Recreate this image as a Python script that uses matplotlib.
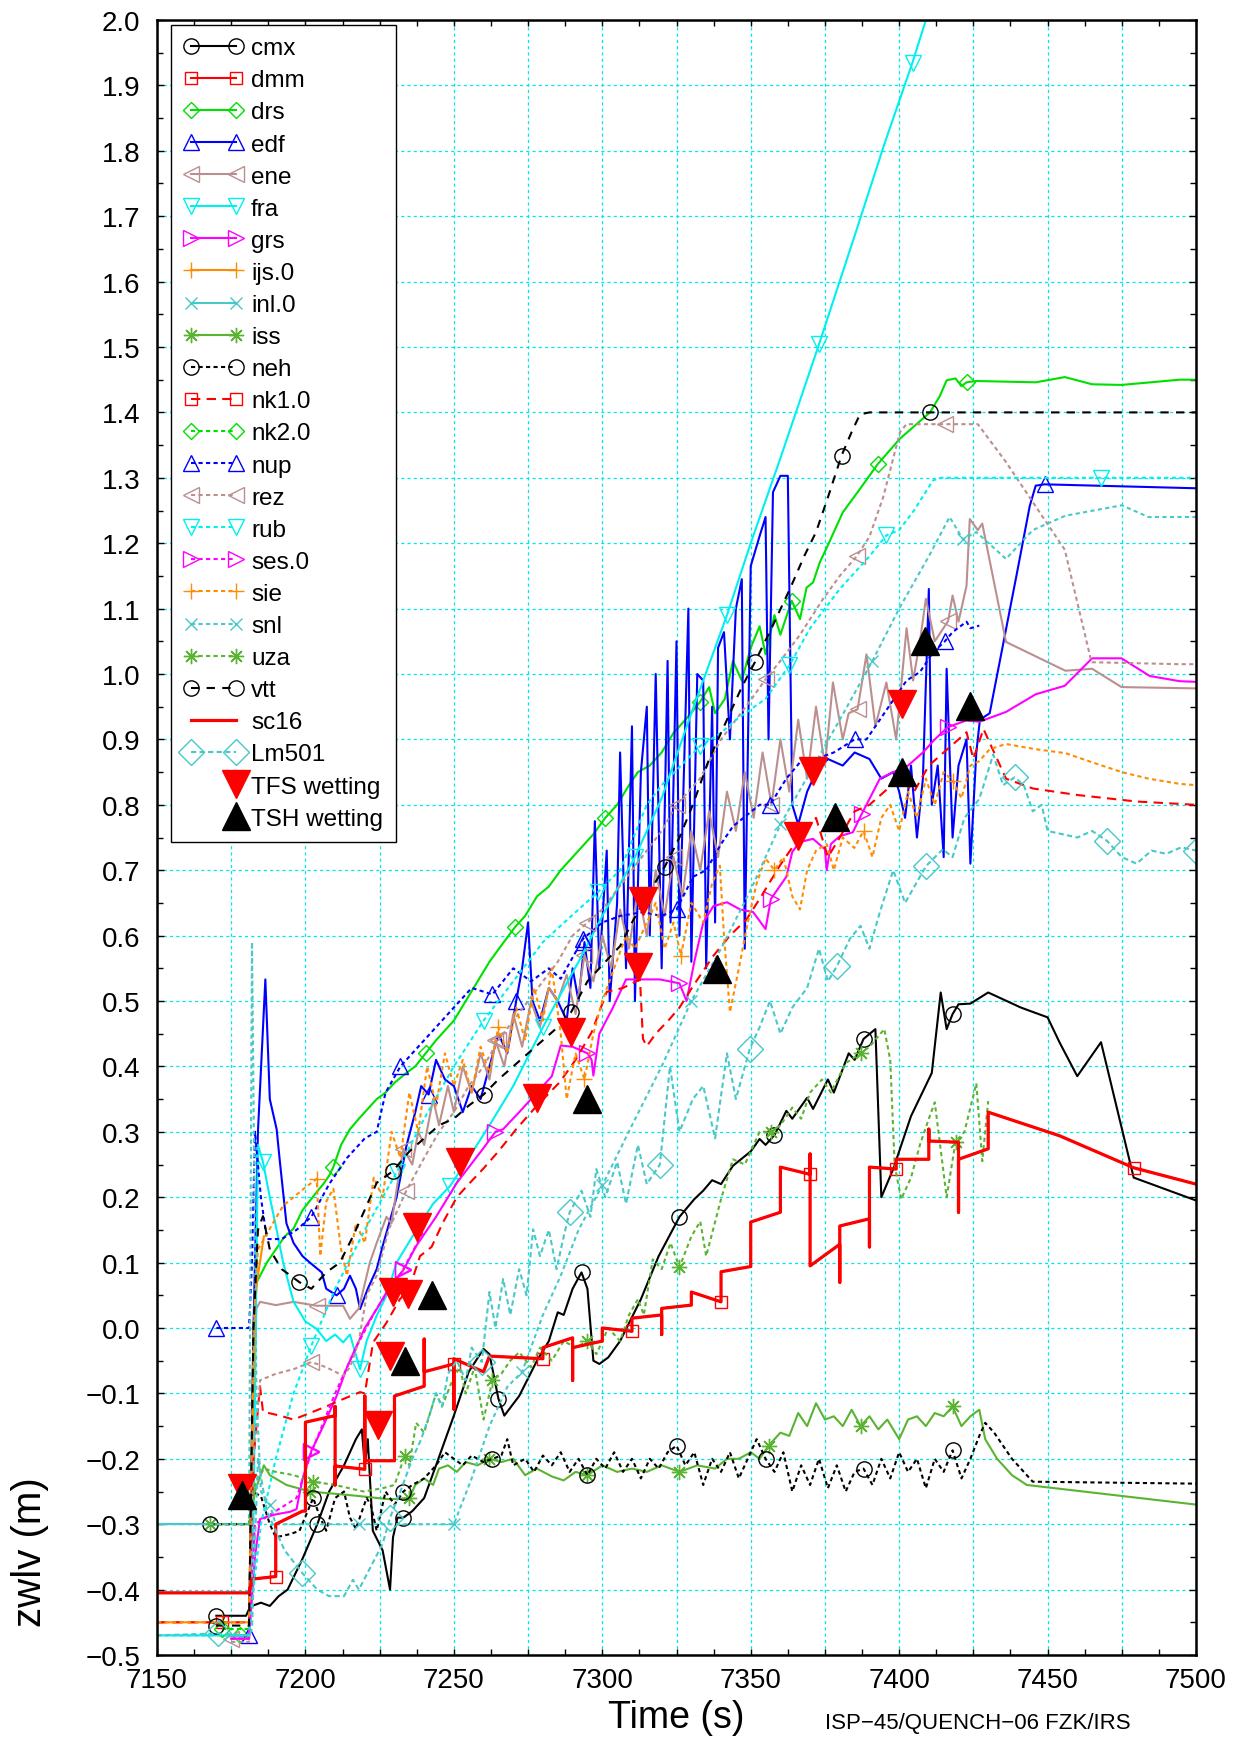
import numpy as np
import matplotlib
matplotlib.use('Agg')
import matplotlib.pyplot as plt
from matplotlib.ticker import MultipleLocator, FuncFormatter
from matplotlib.legend_handler import HandlerLine2D
from matplotlib.lines import Line2D

plt.rcParams['font.family'] = ['Liberation Sans', 'DejaVu Sans']

# ---------------- data (time s, zwlv m) ----------------
cmx = [(7170,-0.44),(7180,-0.44),(7181,-0.43),(7182,-0.425),(7185,-0.42),(7188,-0.425),(7191,-0.41),(7194,-0.40),(7199,-0.353),
       (7204,-0.30),(7208,-0.25),(7213,-0.21),(7217,-0.17),(7219,-0.155),(7220,-0.21),(7221,-0.17),(7222.7,-0.31),(7226,-0.34),
       (7228.5,-0.40),(7229.5,-0.32),(7231,-0.29),(7233,-0.29),(7236,-0.28),(7240,-0.26),(7244,-0.21),(7250,-0.134),(7255,-0.067),
       (7260,-0.032),(7262,-0.04),(7265,-0.108),(7267,-0.134),(7272,-0.104),(7278,-0.05),(7282,-0.02),(7285,0.024),(7287,0.02),
       (7290,0.06),(7293,0.085),(7295,0.06),(7297,-0.05),(7299,-0.055),(7302,-0.045),(7306,-0.02),(7313,0.044),(7319,0.11),
       (7326,0.17),(7331,0.197),(7334,0.21),(7337,0.226),(7340,0.22),(7344,0.248),(7350,0.27),(7353,0.289),(7355,0.28),
       (7358,0.295),(7362,0.332),(7364,0.32),(7369,0.352),(7371,0.335),(7376,0.38),(7378,0.36),(7383,0.42),(7385,0.41),
       (7388,0.442),(7392,0.457),(7394,0.20),(7398,0.243),(7404,0.324),(7411,0.39),(7414,0.513),(7416,0.457),(7418,0.48),
       (7420,0.495),(7424,0.496),(7430,0.513),(7441,0.49),(7450,0.475),(7454,0.437),(7460,0.385),(7468,0.437),(7479,0.23),(7500,0.195)]
cmx_marks = [7171, 7203, 7234, 7265, 7294, 7326, 7357, 7388, 7419]

dmm = [(7150,-0.405),(7181,-0.405),(7182,-0.384),(7190,-0.38),(7190,-0.30),(7199,-0.28),(7200,-0.28),(7200,-0.144),(7210,-0.134),
       (7210,-0.12),(7210,-0.24),(7210,-0.211),(7220,-0.216),(7220,-0.104),(7220,-0.203),(7230,-0.203),(7230,-0.104),(7240,-0.089),
       (7240,-0.017),(7240,-0.067),(7250,-0.055),(7250,-0.124),(7250,-0.047),(7260,-0.067),(7262,-0.043),(7280,-0.047),(7280,-0.03),
       (7290,-0.015),(7290,-0.08),(7290,-0.03),(7300,-0.02),(7300,0.0),(7310,-0.005),(7310,0.015),(7320,0.02),(7320,-0.01),
       (7320,0.03),(7330,0.035),(7330,0.055),(7340,0.04),(7340,0.086),(7350,0.094),(7350,0.162),(7360,0.177),(7360,0.246),
       (7370,0.235),(7370,0.266),(7370,0.095),(7380,0.128),(7380,0.07),(7380,0.156),(7390,0.167),(7390,0.124),(7390,0.246),
       (7399,0.243),(7399,0.258),(7410,0.258),(7410,0.304),(7410,0.286),(7420,0.284),(7420,0.177),(7420,0.258),(7430,0.274),
       (7430,0.33),(7454,0.294),(7479,0.245),(7500,0.22)]
dmm_marks = [7190, 7220, 7250, 7280, 7310, 7340, 7370, 7399, 7479]
sc16 = dmm

drs = [(7178,-0.47),(7181,-0.47),(7182.5,0.0),(7183.6,0.07),(7187,0.1),(7190,0.12),(7193,0.14),(7196,0.152),(7199,0.18),
       (7203.8,0.208),(7206,0.22),(7208,0.233),(7209.4,0.246),(7212,0.28),(7215,0.304),(7218,0.32),(7221,0.335),(7224,0.35),
       (7227,0.36),(7230,0.375),(7234,0.39),(7237,0.4),(7240.5,0.42),(7244,0.44),(7247,0.455),(7250,0.47),(7254,0.5),(7258,0.53),
       (7262,0.56),(7266,0.585),(7270.6,0.613),(7274,0.63),(7278,0.66),(7282,0.675),(7286,0.7),(7290,0.72),(7294,0.74),
       (7297,0.755),(7301,0.78),(7305,0.8),(7309,0.83),(7312,0.85),(7316,0.86),(7320,0.88),(7324,0.91),(7328,0.93),
       (7332.9,0.957),(7336,0.98),(7338,0.94),(7341.3,0.962),(7344,1.02),(7347,0.99),(7350,1.04),(7353,1.073),(7355,1.03),
       (7358,1.09),(7360,1.06),(7363.8,1.112),(7366.6,1.084),(7368.8,1.132),(7371,1.14),(7373.3,1.171),(7375.6,1.193),
       (7381,1.247),(7386.8,1.283),(7392.8,1.321),(7400.3,1.36),(7410.4,1.40),(7413.7,1.425),(7416,1.449),(7419,1.452),
       (7421,1.44),(7422.7,1.446),(7426,1.448),(7446,1.446),(7455.8,1.454),(7465,1.443),(7474.9,1.442),(7494.5,1.45),(7500,1.45)]
drs_marks = [7179, 7209.4, 7240.5, 7270.6, 7301, 7332.9, 7363.8, 7392.8, 7422.7]

edf = [(7175,-0.47),(7181,-0.47),(7182.5,0.0),(7184,0.3),(7186.5,0.533),(7188,0.35),(7190.3,0.304),(7191.4,0.254),(7193.6,0.16),
       (7196,0.13),(7199,0.11),(7201.5,0.10),(7205.5,0.085),(7207,0.06),(7210.5,0.05),(7213,0.06),(7215,0.08),(7217,0.06),
       (7218.4,0.029),(7221,0.06),(7224,0.09),(7226,0.125),(7230.7,0.20),(7234,0.278),(7237,0.33),(7239,0.37),(7241.5,0.357),
       (7244,0.41),(7247,0.38),(7250,0.37),(7253,0.33),(7256,0.37),(7259,0.35),(7262,0.4),(7265,0.45),(7268,0.42),(7271,0.5),
       (7273,0.55),(7275,0.62),(7276.5,0.5),(7279,0.47),(7282,0.52),(7285,0.5),(7288,0.47),(7290,0.55),(7292,0.5),(7294,0.59),
       (7296,0.52),(7297.5,0.775),(7299,0.55),(7301.5,0.73),(7302.5,0.50),(7305,0.65),(7306,0.88),(7308,0.55),(7310,0.92),
       (7311,0.5),(7313,0.85),(7315,0.95),(7316,0.6),(7318,1.0),(7320,0.55),(7322,1.02),(7323,0.62),(7325,1.05),(7326,0.6),
       (7329,1.1),(7330,0.56),(7332,1.0),(7334,0.99),(7335,0.55),(7337,0.95),(7338,0.62),(7339,1.04),(7341,1.064),(7343,0.9),
       (7345,1.1),(7347,1.145),(7348,0.58),(7350,1.165),(7353,1.211),(7355,1.24),(7356,0.9),(7357.5,1.278),(7360,1.303),
       (7362.5,1.303),(7364,0.8),(7366,0.77),(7369,0.82),(7372,0.85),(7376,0.87),(7381,0.86),(7385,0.88),(7390,0.87),
       (7394,0.84),(7398,0.85),(7400,0.82),(7402,0.78),(7404,0.86),(7406,0.75),(7408,0.84),(7410,1.13),(7411,0.8),(7413,0.86),
       (7415,0.72),(7416,1.008),(7418,0.75),(7420,0.86),(7422.7,0.90),(7424,0.71),(7426,0.88),(7427.2,0.93),(7430.5,0.94),
       (7439.5,1.15),(7444,1.257),(7446,1.288),(7449,1.29),(7500,1.284)]
edf_marks = [7179, 7210.5, 7241.5, 7272, 7294, 7449]

ene = [(7175,-0.475),(7181,-0.475),(7182.5,-0.1),(7183.5,0.03),(7184.7,0.04),(7190,0.035),(7196,0.04),(7203.8,0.034),
       (7212.7,0.034),(7215,0.014),(7218,0.03),(7221.7,0.10),(7224,0.13),(7227.3,0.17),(7229,0.16),(7231,0.22),(7233,0.274),
       (7236,0.25),(7238,0.3),(7240,0.28),(7243,0.35),(7245,0.31),(7248,0.37),(7250,0.33),(7253,0.4),(7256,0.36),(7259,0.42),
       (7262,0.38),(7264,0.44),(7267,0.4),(7270,0.48),(7273,0.43),(7276,0.5),(7279,0.46),(7282,0.52),(7285,0.5),(7288,0.54),
       (7291,0.48),(7294,0.57),(7297,0.53),(7300,0.6),(7303,0.55),(7306,0.64),(7309,0.58),(7312,0.67),(7315,0.6),(7318,0.7),
       (7321,0.63),(7324,0.72),(7327,0.66),(7330,0.76),(7333,0.7),(7336,0.79),(7339,0.72),(7342,0.82),(7345,0.76),(7348,0.85),
       (7351,0.78),(7354,0.88),(7357,0.8),(7360,0.9),(7363,0.82),(7366,0.93),(7369,0.84),(7372,0.95),(7375,0.86),
       (7377.7,0.987),(7381,0.9),(7383,0.94),(7386,0.946),(7389,1.03),(7392,0.92),(7395.7,0.987),(7399,0.9),(7402.5,1.07),
       (7404.7,0.99),(7407,1.05),(7409,1.115),(7412,1.05),(7416.5,1.081),(7418,1.12),(7420,1.08),(7422.7,1.135),
       (7423.8,1.237),(7426.5,1.22),(7428,1.23),(7436,1.049),(7456,1.005),(7465,1.008),(7474.9,0.98),(7500,0.978)]
ene_marks = [7175, 7203.8, 7233, 7264, 7294, 7324, 7357, 7386, 7416.5]

fra = [(7150,-0.47),(7181,-0.47),(7182.5,-0.3),(7184,0.28),(7185.7,0.254),(7188,0.2),(7190.3,0.15),(7192.5,0.10),(7196,0.04),
       (7200,0.01),(7203.8,-0.0015),(7207,-0.02),(7210,-0.01),(7212.7,-0.022),(7215,-0.01),(7218.4,-0.063),(7220.6,-0.02),
       (7224,0.019),(7227.3,0.05),(7230.7,0.10),(7237.4,0.15),(7243,0.19),(7248.7,0.217),(7255,0.26),(7262,0.31),(7270,0.37),
       (7280,0.46),(7285.7,0.508),(7292,0.56),(7300,0.63),(7311,0.72),(7320,0.81),(7330,0.94),(7342,1.09),(7350,1.2),
       (7360,1.33),(7373,1.504),(7385,1.67),(7395,1.81),(7404.5,1.935),(7409,2.0),(7412,2.04)]
fra_marks = [7185.7, 7218.4, 7248.7, 7280, 7311, 7342, 7373, 7404.5]

grs = [(7175,-0.475),(7181,-0.475),(7183,-0.35),(7184.7,-0.292),(7190,-0.285),(7194.8,-0.281),(7197,-0.277),(7199,-0.231),
       (7202,-0.188),(7206,-0.15),(7210.5,-0.104),(7214,-0.06),(7217.3,-0.027),(7220,0.0),(7224,0.029),(7228,0.06),
       (7232.9,0.088),(7237.4,0.126),(7244,0.17),(7251,0.222),(7259.8,0.274),(7264,0.3),(7266.6,0.304),(7272,0.33),(7278,0.36),
       (7283,0.385),(7286,0.432),(7290,0.43),(7295,0.42),(7296.4,0.41),(7297,0.386),(7299,0.45),(7303.6,0.49),(7308,0.533),
       (7315,0.533),(7319.4,0.533),(7326,0.527),(7328.4,0.50),(7331,0.56),(7334,0.62),(7337.4,0.645),(7342,0.651),
       (7346.4,0.64),(7350.8,0.636),(7355,0.61),(7356.8,0.656),(7362,0.69),(7364,0.728),(7366.5,0.743),(7371,0.748),
       (7375,0.732),(7375.6,0.70),(7377,0.74),(7380,0.752),(7384.4,0.758),(7387.4,0.786),(7390,0.809),(7393.5,0.84),
       (7398,0.85),(7403,0.86),(7408,0.88),(7412,0.9),(7416.5,0.919),(7422.7,0.929),(7427,0.927),(7436,0.942),(7446,0.969),
       (7455.8,0.982),(7465,1.024),(7474.9,1.024),(7484.4,0.997),(7494.5,0.989),(7500,0.988)]
grs_marks = [7202, 7232.9, 7264, 7295, 7326, 7356.8, 7387.4, 7416.5]

ijs = [(7150,-0.45),(7172,-0.45),(7181,-0.45),(7183,0.05),(7186,0.14)]
ijs_marks = [7172]

inl = [(7150,-0.3),(7182,-0.3)]
inl_marks = []

iss = [(7168,-0.30),(7181,-0.30),(7183,-0.25),(7186,-0.21),(7188,-0.225),(7193.6,-0.24),(7201.5,-0.25),(7216,-0.256),
       (7228.5,-0.262),(7235,-0.26),(7237,-0.24),(7240,-0.23),(7243,-0.24),(7245,-0.215),(7248,-0.21),(7251,-0.22),
       (7254,-0.205),(7258,-0.21),(7262,-0.2),(7266,-0.205),(7270,-0.2),(7274,-0.225),(7278,-0.215),(7283,-0.227),
       (7287,-0.233),(7291,-0.22),(7295,-0.225),(7300,-0.21),(7305,-0.22),(7310,-0.215),(7315,-0.22),(7320,-0.21),
       (7326,-0.22),(7332,-0.21),(7338,-0.215),(7342,-0.2),(7346,-0.2),(7350,-0.19),(7353,-0.2),(7356,-0.18),(7360,-0.16),
       (7363,-0.165),(7366,-0.13),(7369,-0.15),(7372,-0.115),(7375,-0.14),(7378,-0.135),(7381,-0.15),(7384,-0.125),
       (7387,-0.15),(7390,-0.135),(7393,-0.155),(7396,-0.14),(7400,-0.17),(7403,-0.14),(7406,-0.135),(7409,-0.15),
       (7412,-0.13),(7415,-0.135),(7418,-0.12),(7421,-0.15),(7424,-0.135),(7427,-0.125),(7429,-0.17),(7433,-0.2),
       (7438,-0.225),(7443,-0.24),(7500,-0.27)]
iss_marks = [7168, 7201.5, 7235, 7262, 7295, 7326, 7356, 7387, 7418]

neh = [(7168,-0.30),(7181,-0.30),(7182,-0.25),(7185,-0.257),(7188,-0.30),(7190,-0.32),(7195,-0.315),(7198,-0.31),
       (7202.6,-0.26),(7205,-0.29),(7207,-0.31),(7210,-0.26),(7213,-0.25),(7215,-0.29),(7217,-0.307),(7220.6,-0.26),
       (7222,-0.27),(7224,-0.31),(7227,-0.25),(7230,-0.27),(7233,-0.25),(7236,-0.24),(7240,-0.23),(7244,-0.21),(7247,-0.19),
       (7250,-0.20),(7253,-0.21),(7256,-0.195),(7260,-0.205),(7263,-0.20),(7266,-0.195),(7268,-0.17),(7270,-0.21),
       (7274,-0.2),(7277,-0.22),(7280,-0.195),(7283,-0.21),(7286,-0.19),(7289,-0.22),(7292,-0.2),(7295,-0.225),(7298,-0.2),
       (7301,-0.215),(7304,-0.19),(7307,-0.22),(7310,-0.2),(7313,-0.23),(7316,-0.2),(7319,-0.215),(7322,-0.19),(7325,-0.18),
       (7328,-0.21),(7331,-0.19),(7334,-0.24),(7337,-0.2),(7340,-0.22),(7343,-0.19),(7346,-0.23),(7349,-0.2),(7352,-0.17),
       (7355,-0.2),(7358,-0.22),(7361,-0.19),(7364,-0.25),(7367,-0.21),(7370,-0.24),(7373,-0.2),(7376,-0.245),(7379,-0.21),
       (7382,-0.25),(7385,-0.22),(7388,-0.215),(7391,-0.24),(7394,-0.2),(7397,-0.23),(7400,-0.19),(7403,-0.22),(7406,-0.2),
       (7409,-0.245),(7412,-0.2),(7415,-0.22),(7418,-0.187),(7421,-0.23),(7424,-0.2),(7427,-0.165),(7429,-0.145),
       (7432,-0.16),(7438,-0.2),(7445,-0.235),(7500,-0.238)]
neh_marks = [7168, 7202.6, 7233, 7263, 7295, 7325, 7355, 7388, 7418]

nk1 = [(7150,-0.45),(7172,-0.45),(7181,-0.45),(7182.5,-0.2),(7184.7,-0.089),(7185.7,-0.128),(7191.4,-0.134),(7196,-0.14),
       (7202.6,-0.128),(7207,-0.12),(7212,-0.11),(7218.4,-0.098),(7220,-0.1),(7222.8,-0.022),(7227.3,0.008),(7231.8,0.044),
       (7235,0.06),(7238.6,0.11),(7242.5,0.124),(7246.4,0.162),(7251,0.20),(7255,0.22),(7259.8,0.243),(7265,0.27),
       (7271,0.304),(7278,0.34),(7285.7,0.376),(7291,0.41),(7296.4,0.452),(7301.5,0.514),(7307,0.52),(7312.7,0.533),
       (7313.7,0.442),(7315,0.431),(7318,0.45),(7322.8,0.473),(7326,0.49),(7330.6,0.523),(7337.4,0.569),(7343,0.6),
       (7348.6,0.625),(7353,0.656),(7359.8,0.707),(7366.6,0.752),(7372,0.78),(7376,0.72),(7380,0.75),(7385,0.79),(7390,0.8),
       (7395,0.82),(7400,0.84),(7405,0.82),(7410,0.86),(7415,0.88),(7420,0.9),(7422.7,0.911),(7425,0.87),(7428.4,0.916),
       (7432,0.88),(7436,0.84),(7445,0.825),(7460,0.815),(7480,0.805),(7500,0.80)]
nk1_marks = [7172]

nk2 = [(7172,-0.46),(7182,-0.46)]
nk2_marks = [7172]

nup = [(7170,0.0),(7181,0.0),(7182,0.1),(7183,0.3),(7185,0.2),(7187,0.136),(7192,0.136),(7197,0.15),(7202,0.17),(7208,0.22),
       (7214,0.26),(7220,0.29),(7224,0.30),(7227,0.36),(7232,0.40),(7238,0.43),(7244,0.46),(7250,0.49),(7256,0.52),
       (7263,0.51),(7270,0.55),(7276,0.53),(7282,0.55),(7286,0.534),(7293.5,0.595),(7300,0.62),(7306,0.63),(7313.7,0.636),
       (7320,0.63),(7325,0.64),(7330.6,0.69),(7335,0.70),(7340,0.74),(7344,0.767),(7353,0.80),(7356.5,0.80),(7362,0.84),
       (7366.6,0.865),(7372,0.87),(7378,0.88),(7385,0.90),(7389,0.90),(7393.5,0.93),(7398,0.96),(7402.5,0.99),(7407,1.003),
       (7411.4,1.033),(7415.4,1.05),(7418,1.064),(7422.7,1.08),(7424,1.07),(7427,1.074)]
nup_marks = [7170, 7202, 7232, 7263, 7293.5, 7325, 7356.5, 7385, 7415.4]

rez = [(7175,-0.48),(7181,-0.48),(7182.5,-0.2),(7184.7,-0.08),(7190,-0.07),(7196,-0.063),(7202,-0.052),(7207,-0.06),
       (7212.7,-0.073),(7215,-0.06),(7218,-0.02),(7220.6,0.05),(7224,0.08),(7228,0.15),(7234,0.21),(7240,0.26),(7245,0.3),
       (7250,0.33),(7255,0.37),(7260,0.4),(7265,0.44),(7270,0.47),(7275,0.5),(7280,0.53),(7285,0.56),(7290,0.6),(7295,0.62),
       (7300,0.64),(7305,0.67),(7310,0.7),(7315,0.73),(7320,0.76),(7325,0.8),(7332.9,0.84),(7340,0.9),(7345,0.93),
       (7350,0.96),(7355,0.992),(7360,1.02),(7366.6,1.06),(7374.4,1.115),(7380,1.15),(7385.7,1.18),(7390,1.21),
       (7394.6,1.27),(7400.3,1.37),(7402.5,1.382),(7415.4,1.382),(7426.5,1.382),(7436,1.324),(7445,1.263),(7455.8,1.19),
       (7464.8,1.018),(7494.5,1.015),(7500,1.015)]
rez_marks = [7202, 7234, 7265, 7295, 7325, 7355, 7385.7, 7415.4]

rub = [(7150,-0.47),(7181,-0.47),(7182.5,-0.4),(7185,-0.3),(7190,-0.2),(7196,-0.1),(7202,-0.027),(7210,0.06),(7220,0.15),
       (7230.7,0.238),(7240,0.32),(7250,0.40),(7260,0.47),(7270,0.53),(7280,0.59),(7285.7,0.614),(7298.6,0.667),(7306,0.70),
       (7315,0.80),(7320,0.83),(7333,0.89),(7340,0.91),(7345,0.93),(7355,0.962),(7363,1.013),(7370,1.07),(7380,1.13),
       (7390,1.18),(7395.7,1.212),(7400,1.22),(7405,1.25),(7411.4,1.296),(7414,1.30),(7468,1.30),(7500,1.30)]
rub_marks = [7202, 7230.7, 7260, 7298.6, 7333, 7363, 7395.7, 7468]

ses = [(7175,-0.475),(7181,-0.475),(7183,-0.3),(7190,-0.28),(7197,-0.26),(7202,-0.19),(7210,-0.1),(7217,-0.03),(7224,0.03),
       (7233,0.09),(7240,0.15)]
ses_marks = [7202, 7233]

sie = [(7150,-0.45),(7181,-0.45),(7182.5,0.0),(7184,0.12),(7186,0.136),(7189,0.16),(7192.5,0.187),(7196,0.2),(7200,0.215),
       (7203.8,0.228),(7205,0.11),(7207,0.193),(7209.4,0.213),(7212,0.12),(7214,0.08),(7217,0.16),(7220,0.13),(7223,0.23),
       (7226,0.2),(7229,0.3),(7232,0.26),(7235,0.36),(7238,0.3),(7241,0.4),(7244,0.34),(7247,0.42),(7250,0.37),(7253,0.41),
       (7256,0.36),(7259,0.43),(7262,0.39),(7265,0.46),(7268,0.42),(7271,0.49),(7274,0.44),(7277,0.52),(7280,0.47),
       (7283,0.55),(7286,0.45),(7288,0.35),(7291,0.42),(7294,0.38),(7297,0.45),(7300,0.5),(7304,0.55),(7308,0.6),(7311,0.58),
       (7314,0.61),(7318,0.65),(7321,0.58),(7324,0.62),(7326.5,0.569),(7330,0.65),(7334,0.62),(7337,0.68),(7339.6,0.707),
       (7341,0.6),(7343,0.483),(7346,0.55),(7349,0.62),(7352,0.68),(7355,0.718),(7358,0.70),(7361,0.72),(7364,0.66),
       (7366.6,0.64),(7369,0.7),(7372,0.73),(7375.6,0.74),(7378,0.7),(7381,0.75),(7384.9,0.734),(7388,0.76),(7391,0.72),
       (7394,0.78),(7397,0.8),(7400,0.76),(7403,0.82),(7406,0.78),(7409,0.84),(7412,0.8),(7415,0.85),(7418,0.837),(7421,0.81),
       (7424,0.86),(7427,0.867),(7430.5,0.885),(7436,0.893),(7446,0.885),(7456,0.879),(7465,0.865),(7475,0.85),(7484,0.84),
       (7494.5,0.832),(7500,0.83)]
sie_marks = [7203.8, 7264, 7294, 7326.5, 7358, 7388, 7418]

snl = [(7150,-0.3),(7181,-0.3),(7182,0.59),(7183.5,-0.1),(7185,-0.25),(7188,-0.27),(7190,-0.3),(7218,-0.3),(7250,-0.3),
       (7256,-0.23),(7262,-0.15),(7268,-0.09),(7273,-0.067),(7280,0.02),(7286,0.08),(7292,0.15),(7300,0.218),(7310,0.31),
       (7320,0.4),(7330,0.5),(7340,0.58),(7350,0.67),(7360,0.77),(7370,0.85),(7380,0.93),(7391,1.02),(7400,1.1),(7410,1.18),
       (7417,1.24),(7421.5,1.206),(7426,1.217),(7436,1.176),(7445,1.22),(7456,1.242),(7475,1.258),(7484,1.24),(7500,1.24)]
snl_marks = [7188, 7218, 7250, 7273, 7300, 7330, 7360, 7391, 7421.5]

uza = [(7181,-0.30),(7183,-0.24),(7186,-0.215),(7190,-0.22),(7196,-0.225),(7202.6,-0.235),(7210,-0.24),(7219.6,-0.25),
       (7226,-0.245),(7230,-0.24),(7233.5,-0.195),(7235,-0.21),(7237.3,-0.145),(7240,-0.16),(7244,-0.10),(7246,-0.12),
       (7249.7,-0.078),(7252,-0.06),(7254,-0.10),(7257,-0.06),(7260,-0.14),(7263,-0.08),(7266,-0.07),(7269,-0.05),
       (7272,-0.037),(7276,-0.06),(7279,-0.03),(7283,-0.05),(7287,-0.02),(7291,-0.03),(7295,-0.02),(7298,-0.04),(7302,0.0),
       (7306,-0.02),(7309,0.02),(7312,0.044),(7314,0.02),(7317,0.105),(7320,0.09),(7323,0.13),(7326,0.093),(7330,0.14),
       (7333,0.163),(7335,0.11),(7340,0.197),(7344,0.258),(7348,0.25),(7353,0.30),(7357,0.30),(7360,0.31),(7364,0.337),
       (7367,0.32),(7370,0.36),(7374,0.38),(7377,0.36),(7382,0.405),(7387,0.42),(7390,0.43),(7395,0.457),(7397,0.41),
       (7398.5,0.248),(7400.7,0.197),(7404,0.23),(7407,0.28),(7410,0.32),(7412,0.345),(7416,0.20),(7419,0.285),(7422,0.30),
       (7426,0.374),(7428,0.255),(7430,0.347)]
uza_marks = [7202.6, 7233.5, 7263, 7295, 7326, 7357, 7387, 7419]

vtt = [(7170,-0.455),(7181,-0.455),(7182.5,0.0),(7184,0.15),(7185.7,0.171),(7188,0.12),(7192,0.09),(7198,0.07),(7202,0.06),
       (7207,0.085),(7211.6,0.10),(7216,0.14),(7220.6,0.187),(7224,0.222),(7229.5,0.24),(7235,0.27),(7240,0.29),(7245,0.31),
       (7250,0.32),(7255,0.34),(7260,0.357),(7265,0.38),(7270,0.4),(7275,0.42),(7280,0.44),(7285,0.46),(7289.5,0.483),
       (7295,0.53),(7300,0.555),(7306,0.584),(7310,0.62),(7315,0.66),(7321,0.705),(7326,0.75),(7330.5,0.8),(7336,0.87),
       (7342,0.93),(7347,0.98),(7351.4,1.018),(7357,1.07),(7363.2,1.13),(7368,1.18),(7372,1.217),(7376,1.27),(7380.6,1.334),
       (7384,1.37),(7386.8,1.397),(7390,1.40),(7410.4,1.40),(7500,1.40)]
vtt_marks = [7170, 7198, 7229.5, 7260, 7289.5, 7321, 7351.4, 7380.6, 7410.4]

lm501 = [(7150,-0.47),(7170.5,-0.467),(7181,-0.47),(7182,-0.46),(7184,-0.2),(7187,-0.28),(7193,-0.34),(7199,-0.375),
         (7204,-0.40),(7208,-0.41),(7213,-0.41),(7216,-0.385),(7218,-0.40),(7222,-0.365),(7226,-0.33),(7228.5,-0.29),
         (7232,-0.25),(7236,-0.2),(7239,-0.17),(7242,-0.13),(7244,-0.10),(7246,-0.12),(7248,-0.07),(7251,-0.05),(7254,-0.08),
         (7256,-0.03),(7259.4,-0.052),(7262,0.055),(7264,0.0),(7266.6,0.075),(7269,0.02),(7272,0.09),(7274.5,0.05),
         (7276.7,0.151),(7279,0.11),(7282,0.15),(7284.6,0.09),(7287,0.14),(7289,0.177),(7293,0.21),(7296,0.17),(7298,0.243),
         (7301,0.2),(7305,0.254),(7308,0.19),(7312,0.28),(7315,0.22),(7319.4,0.25),(7322.8,0.40),(7326,0.3),(7330.5,0.35),
         (7334,0.37),(7338,0.29),(7342,0.42),(7345,0.35),(7349.7,0.427),(7353,0.46),(7356.5,0.50),(7360,0.45),(7364,0.49),
         (7369,0.52),(7373,0.58),(7376,0.53),(7379,0.553),(7383.4,0.595),(7387,0.615),(7390,0.58),(7393.5,0.636),(7398,0.70),
         (7402,0.65),(7407,0.69),(7409.2,0.707),(7414.7,0.732),(7418,0.72),(7422,0.78),(7427,0.809),(7431.7,0.877),
         (7435,0.83),(7438.9,0.842),(7442,0.83),(7445,0.79),(7448,0.80),(7450,0.76),(7455,0.755),(7460,0.75),(7465,0.76),
         (7470,0.745),(7475,0.72),(7480,0.71),(7485,0.73),(7490,0.725),(7495,0.735),(7500,0.73)]
lm501_marks = [7170.5, 7199, 7228.5, 7259.4, 7289, 7319.4, 7349.7, 7379, 7409.2, 7438.9, 7470, 7500]

tfs_t = [7178.5, 7224.4, 7228.5, 7229.6, 7234.6, 7237.5, 7252, 7278, 7289.3, 7312, 7313.7, 7366, 7371, 7400.8]
tfs_z = [-0.245, -0.149, -0.043, 0.055, 0.052, 0.155, 0.254, 0.352, 0.452, 0.552, 0.653, 0.753, 0.852, 0.954]
tsh_t = [7178.5, 7233.5, 7242.5, 7294.7, 7338.5, 7378.4, 7400.8, 7408.7, 7423.8]
tsh_z = [-0.256, -0.05, 0.05, 0.35, 0.549, 0.781, 0.85, 1.05, 0.951]

# ---------------- styles ----------------
GREEN = '#00e000'
DGREEN = '#5ab432'
ROSY = '#bc8f8f'
CYAN = '#00f0f0'
TURQ = '#48c8c8'
ORANGE = '#ff8c00'
MAG = '#ff00ff'
DOT = (0, (2.0, 1.6))
AST = (8, 2, 0)

series = [
    ('cmx',   cmx,   cmx_marks,   dict(color='k', ls='-', marker='o', ms=11)),
    ('dmm',   dmm,   dmm_marks,   dict(color='red', ls='-', marker='s', ms=9)),
    ('drs',   drs,   drs_marks,   dict(color=GREEN, ls='-', marker='D', ms=8)),
    ('edf',   edf,   edf_marks,   dict(color='blue', ls='-', marker='^', ms=11)),
    ('ene',   ene,   ene_marks,   dict(color=ROSY, ls='-', marker='<', ms=11)),
    ('fra',   fra,   fra_marks,   dict(color=CYAN, ls='-', marker='v', ms=11)),
    ('grs',   grs,   grs_marks,   dict(color=MAG, ls='-', marker='>', ms=11)),
    ('ijs.0', ijs,   ijs_marks,   dict(color=ORANGE, ls='-', marker='+', ms=12)),
    ('inl.0', inl,   inl_marks,   dict(color=TURQ, ls='-', marker='x', ms=9)),
    ('iss',   iss,   iss_marks,   dict(color=DGREEN, ls='-', marker=AST, ms=11)),
    ('neh',   neh,   neh_marks,   dict(color='k', ls=DOT, marker='o', ms=11)),
    ('nk1.0', nk1,   nk1_marks,   dict(color='red', ls=(0, (4.5, 3.0)), marker='s', ms=9)),
    ('nk2.0', nk2,   nk2_marks,   dict(color=GREEN, ls=DOT, marker='D', ms=8)),
    ('nup',   nup,   nup_marks,   dict(color='blue', ls=DOT, marker='^', ms=11)),
    ('rez',   rez,   rez_marks,   dict(color=ROSY, ls=DOT, marker='<', ms=11)),
    ('rub',   rub,   rub_marks,   dict(color=CYAN, ls=DOT, marker='v', ms=11)),
    ('ses.0', ses,   ses_marks,   dict(color=MAG, ls=DOT, marker='>', ms=11)),
    ('sie',   sie,   sie_marks,   dict(color=ORANGE, ls=DOT, marker='+', ms=12)),
    ('snl',   snl,   snl_marks,   dict(color=TURQ, ls=DOT, marker='x', ms=9)),
    ('uza',   uza,   uza_marks,   dict(color=DGREEN, ls=DOT, marker=AST, ms=11)),
    ('vtt',   vtt,   vtt_marks,   dict(color='k', ls=(0, (4.0, 3.5)), marker='o', ms=11)),
    ('sc16',  sc16,  [],          dict(color='red', ls='-', marker='None', ms=0, lw=2.3)),
    ('Lm501', lm501, lm501_marks, dict(color=TURQ, ls=(0, (2.5, 1.6)), marker='D', ms=13.5)),
]

fig = plt.figure(figsize=(12.41, 17.40), dpi=100)
ax = fig.add_axes([157/1241, 1-1656/1740, (1196-157)/1241, (1656-21)/1740])

handles, labels = [], []
for name, pts, marks, st in series:
    a = np.array(pts, dtype=float)
    t, z = a[:, 0], a[:, 1]
    st = dict(st)
    lw = st.pop('lw', 1.5)
    idx = sorted(set(int(np.argmin(np.abs(t - m))) for m in marks))
    ax.plot(t, z, lw=lw, markevery=idx if idx else None, mfc='none', mew=1.0,
            **(st if idx else {k: v for k, v in st.items() if k not in ('marker', 'ms')}))
    h = Line2D([], [], lw=lw, mfc='none', mew=1.0, **st)
    handles.append(h)
    labels.append(name)

ax.plot(tfs_t, tfs_z, ls='none', marker='v', ms=20, color='red', mec='red')
ax.plot(tsh_t, tsh_z, ls='none', marker='^', ms=20, color='black', mec='black')
tfs_h = Line2D([], [], ls='none', marker='v', ms=20, color='red')
tsh_h = Line2D([], [], ls='none', marker='^', ms=20, color='black')
handles += [tfs_h, tsh_h]
labels += ['TFS wetting', 'TSH wetting']


class EndMarker(HandlerLine2D):
    def create_artists(self, *args, **kwargs):
        arts = super().create_artists(*args, **kwargs)
        for a in arts:
            a.set_markevery([len(a.get_xdata()) - 1])
        return arts


ax.set_xlim(7150, 7500)
ax.set_ylim(-0.5, 2.0)

ax.xaxis.set_major_locator(MultipleLocator(25))
ax.xaxis.set_minor_locator(MultipleLocator(12.5))
ax.xaxis.set_major_formatter(FuncFormatter(lambda v, p: f"{v:.0f}" if abs((v + 1e-6) % 50) < 1e-3 else ""))
ax.yaxis.set_major_locator(MultipleLocator(0.1))
ax.yaxis.set_minor_locator(MultipleLocator(0.05))


def yfmt(v, p):
    if abs(v) < 1e-9:
        v = 0.0
    return f"{v:.1f}".replace('-', '\u2212')


ax.yaxis.set_major_formatter(FuncFormatter(yfmt))
ax.tick_params(which='both', direction='in', top=True, right=True, width=1.0, labelsize=20)
ax.tick_params(axis='x', which='major', length=4, pad=9)
ax.tick_params(axis='x', which='minor', length=4)
ax.tick_params(axis='y', which='major', length=5, pad=12)
ax.tick_params(axis='y', which='minor', length=4)

ax.grid(True, which='major', color='#00e8e8', ls=(0, (2.5, 2.5)), lw=0.9)
ax.set_axisbelow(True)
for s in ax.spines.values():
    s.set_linewidth(1.8)

leg = ax.legend(handles, labels, loc='upper left', bbox_to_anchor=(0.0135, 0.9972), borderaxespad=0,
                numpoints=2, handlelength=2.45, handletextpad=0.32, labelspacing=0.415, borderpad=0.52,
                fontsize=17.5, frameon=True, fancybox=False, edgecolor='black', framealpha=1,
                handler_map={tfs_h: EndMarker(), tsh_h: EndMarker()})
leg.get_frame().set_linewidth(1.0)

fig.text(676/1241, 1-1718/1740, 'Time (s)', fontsize=27, ha='center', va='center')
fig.text(30/1241, 1-1552/1740, 'zwlv (m)', fontsize=29, rotation=90, ha='center', va='center')
fig.text(978/1241, 1-1724/1740, 'ISP\u221245/QUENCH\u221206 FZK/IRS', fontsize=16, ha='center', va='center')

fig.savefig('out.png', dpi=100)
